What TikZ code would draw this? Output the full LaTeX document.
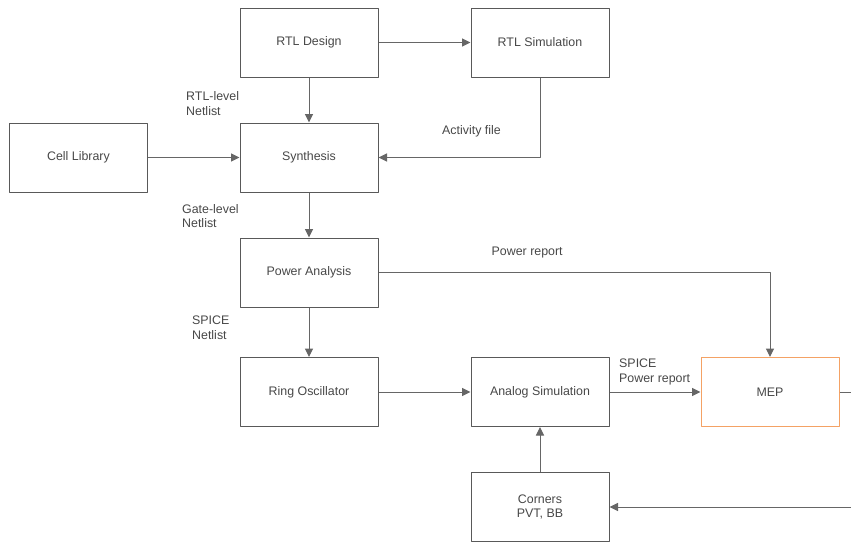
\documentclass[tikz,border=0pt]{standalone}
\usepackage{fontspec}
\setmainfont{Liberation Sans}
\usetikzlibrary{arrows.meta}
\definecolor{meporange}{HTML}{F4A265}
\begin{document}
\begin{tikzpicture}[x=1pt, y=-1pt, line join=round,
	box/.style={draw=black!65, line width=1pt, minimum width=138pt, minimum height=69pt,
		inner sep=0pt, text=black!72, align=center, font=\fontsize{12.4}{14}\selectfont},
	lbl/.style={anchor=west, align=left, inner sep=0pt, text=black!72,
		font=\fontsize{12.4}{14.5}\selectfont},
	flow/.style={draw=black!60, line width=1pt, -{Triangle[length=8.5pt,width=8pt]}}]
	\useasboundingbox (0,0) rectangle (851,541);
	% boxes
	\node[box] (rtl)  at (309,42.5)  {RTL Design};
	\node[box] (rsim) at (540,42.5)  {RTL Simulation};
	\node[box] (cell) at (78.5,157.5) {Cell Library};
	\node[box] (syn)  at (309,157.5) {Synthesis};
	\node[box] (pa)   at (309,272.5) {Power Analysis};
	\node[box] (ro)   at (309,392)   {Ring Oscillator};
	\node[box] (asim) at (540,392)   {Analog Simulation};
	\node[box, draw=meporange] (mep) at (770,392) {MEP};
	\node[box] (crn)  at (540,507)   {Corners\\PVT, BB};
	\coordinate (mepout) at (851,392);
	\coordinate (crnin)  at (851,507);
	% connectors
	\draw[flow] (rtl) -- (rsim);
	\draw[flow] (rtl) -- (syn);
	\draw[flow] (cell) -- (syn);
	\draw[flow] (rsim.south) |- (syn.east);
	\draw[flow] (syn) -- (pa);
	\draw[flow] (pa) -- (ro);
	\draw[flow] (pa.east) -| (mep.north);
	\draw[flow] (ro) -- (asim);
	\draw[flow] (asim) -- (mep);
	\draw[flow] (crn) -- (asim);
	\draw[draw=black!60, line width=1pt] (mep.east) -- (mepout);
	\draw[flow] (crnin) -- (crn.east);
	% labels
	\node[lbl] (l1) at (186,103.5) {RTL-level\\Netlist};
	\node[lbl] (l2) at (182,216)   {Gate-level\\Netlist};
	\node[lbl] (l3) at (192,327.5) {SPICE\\Netlist};
	\node[lbl] (l4) at (442,131)   {Activity file};
	\node[lbl] (l5) at (491.5,253) {Power report};
	\node[lbl] (l6) at (619,372)   {SPICE\\Power report};
\end{tikzpicture}
\end{document}
